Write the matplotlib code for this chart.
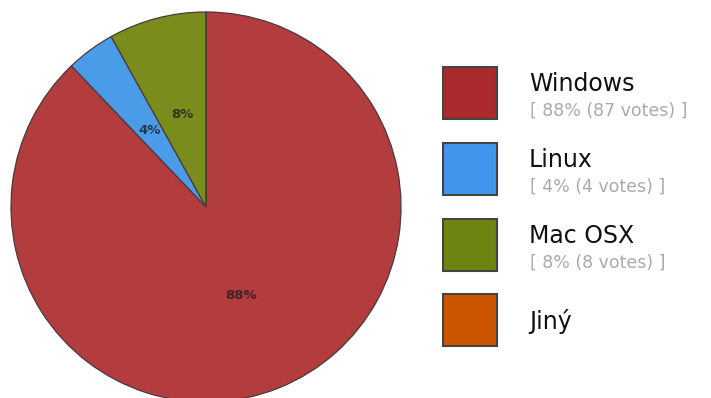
import matplotlib.pyplot as plt
from matplotlib.patches import Rectangle

# poll data
labels = ['Windows', 'Linux', 'Mac OSX', 'Jiný']
votes = [87, 4, 8, 0]
pie_colors = ['#b33c3e', '#4a9ce8', '#7a8c1c', '#cc5500']
legend_colors = ['#a9292c', '#4195ec', '#6e8410', '#cc5500']

W, H = 711, 398
fig = plt.figure(figsize=(W / 100, H / 100), dpi=100)

total = sum(votes)

# pie axes placed in pixel terms: centre (206, 207), radius 196
cx, cy, r = 206, 207, 196
ax = fig.add_axes([(cx - r) / W, (H - cy - r) / H, 2 * r / W, 2 * r / H])


def pct_label(p):
    return '%d%%' % round(p) if p > 0.5 else ''


wedges, texts, autotexts = ax.pie(
    votes, colors=pie_colors, startangle=90, counterclock=False,
    autopct=pct_label, pctdistance=0.49,
    wedgeprops=dict(edgecolor='#4a3a3a', linewidth=0.9),
    textprops=dict(fontsize=9.5, fontweight='bold', color='#1a1a1a', alpha=0.75))
ax.set_xlim(-1.005, 1.005)
ax.set_ylim(-1.005, 1.005)
ax.set_aspect('equal')
ax.axis('off')

# legend drawn by hand
sw_x, sw_w, sw_h = 443, 54, 52
sw_tops = [67, 143, 219, 294]
for i, lab in enumerate(labels):
    top = sw_tops[i]
    fig.patches.append(Rectangle((sw_x / W, (H - top - sw_h) / H), sw_w / W, sw_h / H,
                                 transform=fig.transFigure, facecolor=legend_colors[i],
                                 edgecolor='#444444', linewidth=1.5))
    if votes[i] > 0:
        pct = round(100 * votes[i] / total)
        fig.text(529 / W, (H - top - 17) / H, lab, fontsize=17, color='#111111',
                 va='center', ha='left')
        fig.text(530 / W, (H - top - 44) / H, '[ %d%% (%d votes) ]' % (pct, votes[i]),
                 fontsize=12.5, color='#aaaaaa', va='center', ha='left')
    else:
        fig.text(529 / W, (H - top - 28) / H, lab, fontsize=17, color='#111111',
                 va='center', ha='left')

fig.savefig('out.png', dpi=100)
